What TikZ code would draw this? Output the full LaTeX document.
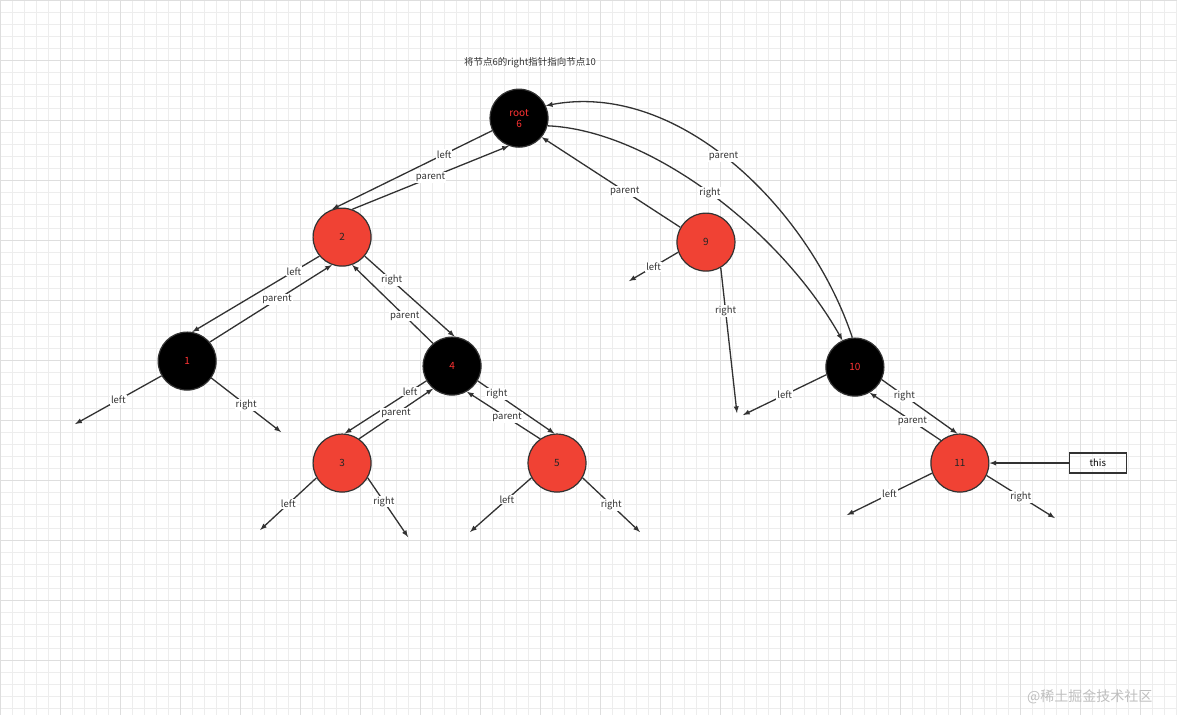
\documentclass[tikz,border=0pt]{standalone}
\usepackage{fontspec}
\setmainfont{Noto Sans CJK SC}
\definecolor{nodered}{RGB}{240,66,52}
\definecolor{edge}{RGB}{50,50,50}
\begin{document}
\begin{tikzpicture}[x=1pt,y=-1pt,
  rb/.style={circle,draw=edge,line width=1.2pt,minimum size=58pt,inner sep=0pt,font=\fontsize{10}{11}\selectfont},
  red/.style={rb,fill=nodered,text=black!85},
  blk/.style={rb,fill=black,text=red!80!white},
  ptr/.style={->,>=latex,line width=1.3pt,edge},
  lbl/.style={fill=white,inner sep=1pt,font=\fontsize{9.5}{10}\selectfont,text=black!80}]
      % Draw the background grid
      \fill[white] (0,0) rectangle (1177,715);
      \foreach \i in {0,12,...,1177} \draw[black!7] (\i,0) -- (\i,715);
      \foreach \j in {0,12,...,715} \draw[black!7] (0,\j) -- (1177,\j);
      \foreach \i in {0,60,...,1177} \draw[black!13] (\i,0) -- (\i,715);
      \foreach \j in {0,60,...,715} \draw[black!13] (0,\j) -- (1177,\j);

      % Draw the nodes
      \node[blk,align=center] (root) at (519,118) {root\\6};
      \node[red] (n2) at (342,237) {2};
      \node[red] (n9) at (706,242) {9};
      \node[blk] (n1) at (187,361) {1};
      \node[blk] (n4) at (452,366) {4};
      \node[blk] (n10) at (855,367) {10};
      \node[red] (n3) at (342,463) {3};
      \node[red] (n5) at (557,463) {5};
      \node[red] (n11) at (960,463) {11};
      \node[draw=edge,line width=1.2pt,minimum width=57pt,minimum height=20pt,font=\fontsize{9.5}{10}\selectfont] (this) at (1098,463) {this};

      \node[font=\fontsize{9.5}{10}\selectfont,text=black!80] (title) at (530,62) {将节点6的right指针指向节点10};
      \node[font=\fontsize{14}{15}\selectfont,text=black!25] (mark) at (1090,697) {@稀土掘金技术社区};

      % Free ends
      \coordinate (e9l) at (629,281);
      \coordinate (e9r) at (737,413);
      \coordinate (e1l) at (75,424);
      \coordinate (e1r) at (281,432);
      \coordinate (e3l) at (260,530);
      \coordinate (e3r) at (408,537);
      \coordinate (e5l) at (470,532);
      \coordinate (e5r) at (640,532);
      \coordinate (e10l) at (743,415);
      \coordinate (e11l) at (847,515);
      \coordinate (e11r) at (1055,518);

      % Draw the pointers
      \draw[ptr] (root.205) -- node[lbl,pos=0.3]{left} (n2.110);
      \draw[ptr] (n2.70) -- node[lbl,pos=0.5]{parent} (root.250);
      \draw[ptr] (n2.220) -- node[lbl,pos=0.2]{left} (n1.80);
      \draw[ptr] (n1.40) -- node[lbl,pos=0.55]{parent} (n2.250);
      \draw[ptr] (n2.-40) -- node[lbl,pos=0.3]{right} (n4.85);
      \draw[ptr] (n4.130) -- node[lbl,pos=0.35]{parent} (n2.-70);
      \draw[ptr] (n9.150) -- node[lbl,pos=0.4]{parent} (root.-40);
      \draw[ptr] (n9.200) -- node[lbl]{left} (e9l);
      \draw[ptr] (n9.-60) -- node[lbl,pos=0.3]{right} (e9r);
      \draw[ptr] (root.-15) .. controls (650,130) and (780,230) .. node[lbl,pos=0.5]{right} (n10.115);
      \draw[ptr] (n10.95) .. controls (810,210) and (680,80) .. node[lbl,pos=0.53]{parent} (root.25);
      \draw[ptr] (n1.210) -- node[lbl]{left} (e1l);
      \draw[ptr] (n1.-35) -- node[lbl]{right} (e1r);
      \draw[ptr] (n4.210) -- node[lbl,pos=0.2]{left} (n3.85);
      \draw[ptr] (n3.55) -- node[lbl,pos=0.5]{parent} (n4.230);
      \draw[ptr] (n4.-30) -- node[lbl,pos=0.25]{right} (n5.95);
      \draw[ptr] (n5.125) -- node[lbl,pos=0.45]{parent} (n4.-60);
      \draw[ptr] (n3.210) -- node[lbl]{left} (e3l);
      \draw[ptr] (n3.-30) -- node[lbl,pos=0.4]{right} (e3r);
      \draw[ptr] (n5.210) -- node[lbl,pos=0.4]{left} (e5l);
      \draw[ptr] (n5.-30) -- node[lbl,pos=0.5]{right} (e5r);
      \draw[ptr] (n10.195) -- node[lbl]{left} (e10l);
      \draw[ptr] (n10.-25) -- node[lbl,pos=0.3]{right} (n11.95);
      \draw[ptr] (n11.130) -- node[lbl,pos=0.4]{parent} (n10.-60);
      \draw[ptr] (n11.200) -- node[lbl,pos=0.5]{left} (e11l);
      \draw[ptr] (n11.-25) -- node[lbl,pos=0.5]{right} (e11r);
      \draw[ptr] (this) -- (n11);
\end{tikzpicture}
\end{document}
